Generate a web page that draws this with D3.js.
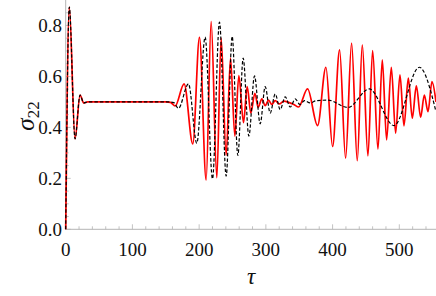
<!DOCTYPE html>
<html>
<head>
<meta charset="utf-8">
<script src="https://cdn.jsdelivr.net/npm/d3@7"></script>
<style>
    body { margin: 0; background: #fff; }
    .tick-label { font-family: "Liberation Serif", "DejaVu Serif", serif; font-size: 19px; fill: #111; }
    .axis-title { font-family: "Liberation Serif", "DejaVu Serif", serif; font-style: italic; fill: #111; }
</style>
</head>
<body>
<svg id="chart" width="436" height="296"></svg>
<script>
// red curve (solid) - extrema
var redT = [0, 5.4, 14, 21.5, 27, 33, 150, 157, 164, 177.5, 190.5, 200.5, 210.5, 218, 226.5, 233, 240.5, 247, 253.5, 259.5, 266.5, 272, 277.5, 283.5, 288.5, 294, 299, 304, 309, 314, 320, 327, 335, 342, 349, 362.5, 377.5, 390, 400, 410.5, 419.5, 428.5, 437, 444.5, 453, 460, 468, 474.5, 481, 488, 494.5, 501, 507, 513.5, 519.5, 525.5, 532, 537.5, 543, 549, 555];
var redV = [0, 0.872, 0.355, 0.527, 0.496, 0.5, 0.5, 0.498, 0.484, 0.571, 0.335, 0.753, 0.194, 0.815, 0.203, 0.75, 0.29, 0.672, 0.366, 0.603, 0.419, 0.56, 0.456, 0.534, 0.479, 0.512, 0.485, 0.507, 0.49, 0.505, 0.492, 0.503, 0.497, 0.49, 0.48, 0.551, 0.407, 0.636, 0.325, 0.704, 0.279, 0.731, 0.269, 0.724, 0.288, 0.701, 0.315, 0.665, 0.351, 0.636, 0.377, 0.606, 0.406, 0.593, 0.436, 0.563, 0.44, 0.527, 0.462, 0.58, 0.5];

// black curve (dashed)
var blackT = [0, 5.4, 14, 21.5, 27, 33, 155, 162, 169, 184, 196.5, 209, 220, 230.5, 240.5, 249.5, 258, 266, 274.5, 283, 291.5, 299, 306.5, 314, 321.5, 329, 336.5, 344, 351, 358, 366, 376, 393, 423, 455, 492, 530, 555];
var blackV = [0, 0.872, 0.355, 0.527, 0.496, 0.5, 0.5, 0.497, 0.475, 0.571, 0.338, 0.754, 0.198, 0.813, 0.209, 0.757, 0.29, 0.672, 0.366, 0.602, 0.414, 0.56, 0.456, 0.531, 0.47, 0.52, 0.48, 0.512, 0.49, 0.505, 0.496, 0.505, 0.507, 0.478, 0.551, 0.407, 0.636, 0.462];

var xTicks = [0, 100, 200, 300, 400, 500];
var yTicks = [0, 0.2, 0.4, 0.6, 0.8];

var svg = d3.select("#chart");

var x = d3.scaleLinear().domain([0, 555]).range([65.7, 436]);
var y = d3.scaleLinear().domain([0, 0.9]).range([229.3, 0]);

var axisColor = "#b4b4b4";

// axis lines
svg.append("line")
    .attr("x1", x(0)).attr("x2", 436)
    .attr("y1", y(0)).attr("y2", y(0))
    .attr("stroke", axisColor).attr("stroke-width", 1);
svg.append("line")
    .attr("x1", x(0)).attr("x2", x(0))
    .attr("y1", 0).attr("y2", y(0))
    .attr("stroke", axisColor).attr("stroke-width", 1);

// ticks pointing inwards, mathematica style
var xMinor = d3.range(0, 556, 20);
svg.selectAll(".xtick")
    .data(xMinor)
    .enter().append("line")
    .attr("x1", d => x(d)).attr("x2", d => x(d))
    .attr("y1", y(0))
    .attr("y2", d => y(0) - (d % 100 === 0 ? 5 : 3))
    .attr("stroke", axisColor).attr("stroke-width", 0.8);

var yMinor = d3.range(0, 0.9, 0.05);
svg.selectAll(".ytick")
    .data(yMinor)
    .enter().append("line")
    .attr("x1", x(0))
    .attr("x2", (d, i) => x(0) + (i % 4 === 0 ? 5 : 3))
    .attr("y1", d => y(d)).attr("y2", d => y(d))
    .attr("stroke", axisColor).attr("stroke-width", 0.8);

svg.selectAll(".xlab")
    .data(xTicks)
    .enter().append("text")
    .attr("class", "tick-label")
    .attr("x", d => x(d))
    .attr("y", 256)
    .attr("text-anchor", "middle")
    .text(d => d);

svg.selectAll(".ylab")
    .data(yTicks)
    .enter().append("text")
    .attr("class", "tick-label")
    .attr("x", 62)
    .attr("y", d => y(d) + 6.5)
    .attr("text-anchor", "end")
    .text(d => d.toFixed(1));

// axis titles
svg.append("text")
    .attr("class", "axis-title")
    .attr("x", 251)
    .attr("y", 284)
    .attr("text-anchor", "middle")
    .attr("font-size", 23)
    .text("τ");

var yt = svg.append("text")
    .attr("class", "axis-title")
    .attr("transform", "translate(34,116) rotate(-90)")
    .attr("text-anchor", "middle")
    .attr("font-size", 25);
yt.append("tspan").text("σ");
yt.append("tspan").attr("font-style", "normal").attr("font-size", 17).attr("dy", 5).text("22");

// curves
var line = d3.line()
    .x(d => x(d[0]))
    .y(d => y(d[1]))
    .curve(d3.curveMonotoneX);

var redData = redT.map((t, i) => [t, redV[i]]);
var blackData = blackT.map((t, i) => [t, blackV[i]]);

svg.append("path")
    .datum(redData)
    .attr("d", line)
    .attr("fill", "none")
    .attr("stroke", "#ff0000")
    .attr("stroke-width", 1.7);

svg.append("path")
    .datum(blackData)
    .attr("d", line)
    .attr("fill", "none")
    .attr("stroke", "#000")
    .attr("stroke-width", 1.2)
    .attr("stroke-dasharray", "3.5,2");
</script>
</body>
</html>
